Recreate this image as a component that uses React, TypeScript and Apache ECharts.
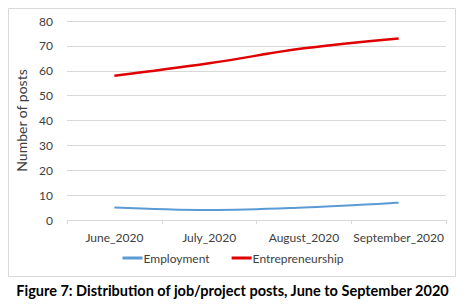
import React, { useEffect, useRef } from "react";
import * as echarts from "echarts";

const categories = ["June_2020", "July_2020", "August_2020", "September_2020"];
const employment = [5, 4, 5, 7];
const entrepreneurship = [58, 63, 69, 73];
const yTicks = { min: 0, max: 80, interval: 10 };
const caption = "Figure 7: Distribution of job/project posts, June to September 2020";

export default function App() {
  const ref = useRef<HTMLDivElement>(null);
  useEffect(() => {
    if (!ref.current) return;
    const chart = echarts.init(ref.current, null, { renderer: "svg" });
    const font = "Lato, 'Open Sans', sans-serif";
    chart.setOption({
      animation: false,
      backgroundColor: "#fff",
      textStyle: { fontFamily: font },
      graphic: [
        {
          type: "rect",
          shape: { x: 8.5, y: 8.5, width: 447, height: 268 },
          style: { fill: "none", stroke: "#d9d9d9", lineWidth: 1 },
          silent: true,
        },
        {
          type: "text",
          left: "center",
          top: 283,
          style: {
            text: caption,
            font: "bold 14.5px Lato, sans-serif",
            fill: "#000",
          },
        },
      ],
      grid: { left: 67, right: 20, top: 21, bottom: 85, containLabel: false },
      legend: {
        bottom: 36,
        left: "center",
        itemWidth: 20,
        itemHeight: 3,
        itemGap: 22,
        icon: "rect",
        textStyle: { fontSize: 12, color: "#404040", fontFamily: font, padding: [0, 0, 0, -4] },
        data: ["Employment", "Entrepreneurship"],
      },
      xAxis: {
        type: "category",
        data: categories,
        boundaryGap: true,
        axisLine: { lineStyle: { color: "#d9d9d9" } },
        axisTick: { show: true, length: 4, lineStyle: { color: "#d9d9d9" } },
        axisLabel: { fontSize: 12, color: "#404040", margin: 11, interval: 0, fontFamily: font },
      },
      yAxis: {
        type: "value",
        min: yTicks.min,
        max: yTicks.max,
        interval: yTicks.interval,
        name: "Number of posts",
        nameLocation: "middle",
        nameGap: 27,
        nameTextStyle: { fontSize: 14, color: "#404040", fontFamily: font },
        axisLine: { show: false },
        axisTick: { show: false },
        axisLabel: { fontSize: 12, color: "#404040", margin: 14, fontFamily: font },
        splitLine: { lineStyle: { color: "#d9d9d9" } },
      },
      series: [
        {
          name: "Employment",
          type: "line",
          data: employment,
          smooth: 0.4,
          showSymbol: false,
          symbol: "none",
          lineStyle: { color: "#5b9bd5", width: 2 },
          itemStyle: { color: "#5b9bd5" },
        },
        {
          name: "Entrepreneurship",
          type: "line",
          data: entrepreneurship,
          smooth: 0.4,
          showSymbol: false,
          symbol: "none",
          lineStyle: { color: "#e00000", width: 2.5 },
          itemStyle: { color: "#e00000" },
        },
      ],
    });
    return () => chart.dispose();
  }, []);
  return (
    <div
      ref={ref}
      style={{ position: "fixed", left: 0, top: 0, width: 466, height: 305 }}
    />
  );
}
